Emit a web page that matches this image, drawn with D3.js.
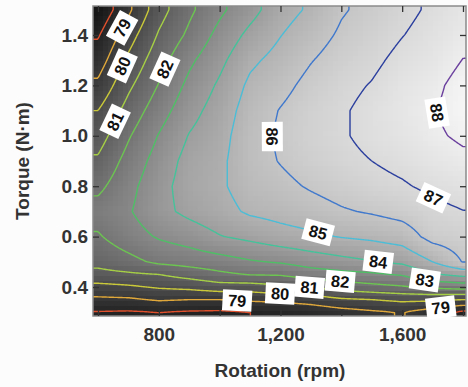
<!DOCTYPE html>
<html>
<head>
<meta charset="utf-8">
<script src="https://cdn.jsdelivr.net/npm/d3@7"></script>
<style>
  html, body { margin: 0; padding: 0; background: #fcfcfc; }
  svg text { font-family: "Liberation Sans", Arial, Helvetica, sans-serif; font-weight: bold; }
</style>
</head>
<body>
<svg id="chart" width="468" height="387"></svg>
<script>
// Motor efficiency map (%), sampled on a speed x torque grid.
const speeds = [600, 700, 800, 900, 1000, 1100, 1200, 1300, 1400, 1500, 1600, 1700, 1800];
const torques = [1.5, 1.4, 1.3, 1.2, 1.1, 1.0, 0.9, 0.8, 0.7, 0.6, 0.5, 0.45, 0.4, 0.35, 0.3];
// one row per torque (top to bottom), one column per speed
const efficiency = [
  [77.2, 78.8, 80.6, 81.8, 82.8, 83.65, 84.6, 85.15, 85.9, 86.3, 86.75, 87.15, 87.55],
  [77.9, 79.55, 81.1, 82.2, 83.3, 84.25, 84.97, 85.55, 86.15, 86.55, 86.97, 87.35, 87.75],
  [78.5, 80.2, 81.6, 82.8, 83.75, 84.8, 85.35, 85.95, 86.45, 86.8, 87.25, 87.55, 88.02],
  [79.2, 80.8, 82.05, 83.25, 84.15, 85.2, 85.7, 86.3, 86.75, 87.05, 87.5, 87.8, 88.3],
  [80.0, 81.37, 82.55, 83.65, 84.45, 85.45, 86.05, 86.55, 86.9, 87.25, 87.6, 87.95, 88.35],
  [80.55, 81.9, 83.05, 84.05, 84.65, 85.6, 86.15, 86.6, 86.9, 87.25, 87.5, 87.85, 88.15],
  [81.15, 82.35, 83.4, 84.35, 84.8, 85.6, 86.05, 86.45, 86.75, 87.0, 87.25, 87.55, 87.8],
  [81.75, 82.7, 83.65, 84.45, 84.85, 85.45, 85.75, 86.1, 86.4, 86.7, 86.9, 87.2, 87.4],
  [82.4, 82.9, 83.7, 84.25, 84.65, 85.15, 85.35, 85.6, 85.9, 86.1, 86.35, 86.75, 86.98],
  [81.9, 82.55, 83.1, 83.45, 83.95, 84.25, 84.6, 84.8, 85.05, 85.2, 85.45, 86.35, 86.5],
  [81.3, 81.7, 82.2, 82.4, 82.6, 82.9, 83.1, 83.45, 83.7, 83.95, 84.2, 85.0, 86.05],
  [80.7, 80.85, 81.0, 81.4, 81.8, 82.05, 82.1, 82.5, 82.7, 82.85, 83.1, 83.9, 84.3],
  [79.7, 79.85, 80.1, 80.25, 80.55, 80.53, 80.8, 81.05, 81.45, 81.7, 81.9, 82.2, 82.4],
  [78.8, 78.85, 79.1, 79.0, 79.0, 79.15, 79.25, 79.45, 79.85, 80.0, 80.2, 80.2, 80.0],
  [77.95, 77.9, 78.0, 77.9, 77.85, 78.0, 78.05, 78.3, 78.6, 78.85, 79.05, 78.5, 77.8]
];

const contourLevels = [78, 79, 80, 81, 82, 83, 84, 85, 86, 87, 88];
const levelColors = ["#e0502c", "#e0a83a", "#c9c93a", "#a6cf45", "#6cc451", "#4fbf66",
                     "#45c29a", "#4cbdd6", "#3f78cc", "#2b3f9e", "#6a3f9e"];

// where each contour label sits: [level, speed, torque]
const labelSpots = [
  [79, 679, 1.428], [80, 672, 1.281], [81, 656, 1.055], [82, 804, 1.273],
  [86, 1172, 0.995], [88, 1715, 1.094], [87, 1698, 0.745], [85, 1323, 0.610],
  [84, 1521, 0.499], [83, 1675, 0.440], [82, 1396, 0.412], [81, 1297, 0.392],
  [80, 1198, 0.376], [79, 1057, 0.348], [79, 1724, 0.329]
];

const xTicks = [600, 800, 1000, 1200, 1400, 1600, 1800];
const xTickLabels = [800, 1200, 1600];
const yTicks = [0.4, 0.6, 0.8, 1.0, 1.2, 1.4];

// ---------------------------------------------------------------
const svg = d3.select("#chart");
const plot = { left: 93, right: 466, top: 6, bottom: 316 };
const x = d3.scaleLinear().domain([583.6, 1809.9]).range([plot.left, plot.right]);
const y = d3.scaleLinear().domain([0.285, 1.515]).range([plot.bottom, plot.top]);

// bilinear lookup into the efficiency grid
const tAsc = torques.slice().reverse();
const rowsAsc = efficiency.slice().reverse();
function locate(arr, v) {
  if (v <= arr[0]) return [0, 0];
  if (v >= arr[arr.length - 1]) return [arr.length - 2, 1];
  const i = d3.bisectRight(arr, v) - 1;
  return [i, (v - arr[i]) / (arr[i + 1] - arr[i])];
}
function effAt(r, t) {
  const [i, fx] = locate(speeds, r);
  const [j, fy] = locate(tAsc, t);
  const a = rowsAsc[j][i], b = rowsAsc[j][i + 1];
  const c = rowsAsc[j + 1][i], d = rowsAsc[j + 1][i + 1];
  return (a * (1 - fx) + b * fx) * (1 - fy) + (c * (1 - fx) + d * fx) * fy;
}

const defs = svg.append("defs");
defs.append("clipPath").attr("id", "plotClip")
  .append("rect")
  .attr("x", plot.left).attr("y", plot.top)
  .attr("width", plot.right - plot.left).attr("height", plot.bottom - plot.top);

// grey shading of the efficiency field, drawn in small blocks
const gray = d3.scaleLinear().domain([77.3, 88.6]).range([22, 250]).clamp(true);
const cell = 5;
const canvas = document.createElement("canvas");
const cw = Math.ceil((plot.right - plot.left) / cell), ch = Math.ceil((plot.bottom - plot.top) / cell);
canvas.width = cw; canvas.height = ch;
const ctx = canvas.getContext("2d");
const img = ctx.createImageData(cw, ch);
for (let j = 0; j < ch; j++) {
  for (let i = 0; i < cw; i++) {
    const px = plot.left + (i + 0.5) * cell, py = plot.top + (j + 0.5) * cell;
    const g = Math.round(gray(effAt(x.invert(px), y.invert(py))));
    const k = (j * cw + i) * 4;
    img.data[k] = g; img.data[k + 1] = g; img.data[k + 2] = g; img.data[k + 3] = 255;
  }
}
ctx.putImageData(img, 0, 0);
svg.append("image")
  .attr("href", canvas.toDataURL())
  .attr("x", plot.left).attr("y", plot.top)
  .attr("width", cw * cell).attr("height", ch * cell)
  .attr("preserveAspectRatio", "none")
  .style("image-rendering", "pixelated")
  .attr("clip-path", "url(#plotClip)");

// contour lines from a finer resampling of the grid
const nx = 320, ny = 300;
const gx0 = x.domain()[0] - 30, gx1 = x.domain()[1] + 30;
const gy0 = y.domain()[1] + 0.03, gy1 = y.domain()[0] - 0.03;
const gdx = (gx1 - gx0) / (nx - 1), gdy = (gy1 - gy0) / (ny - 1);
const fine = new Float64Array(nx * ny);
for (let j = 0; j < ny; j++)
  for (let i = 0; i < nx; i++)
    fine[j * nx + i] = effAt(gx0 + i * gdx, gy0 + j * gdy);

const toPx = p => [x(gx0 + (p[0] - 0.5) * gdx), y(gy0 + (p[1] - 0.5) * gdy)];
const contours = d3.contours().size([nx, ny]).thresholds(contourLevels)(fine);

const lineLayer = svg.append("g").attr("clip-path", "url(#plotClip)");
const ringsByLevel = new Map();
contours.forEach(c => {
  const rings = [];
  c.coordinates.forEach(poly => poly.forEach(ring => rings.push(ring.map(toPx))));
  ringsByLevel.set(c.value, rings);
  const d = rings.map(r => "M" + r.map(p => p[0].toFixed(2) + "," + p[1].toFixed(2)).join("L")).join("");
  lineLayer.append("path")
    .attr("d", d)
    .attr("fill", "none")
    .attr("stroke", levelColors[contourLevels.indexOf(c.value)])
    .attr("stroke-width", 1.4)
    .attr("stroke-linejoin", "round");
});

// frame and ticks
svg.append("rect")
  .attr("x", plot.left).attr("y", plot.top)
  .attr("width", plot.right - plot.left).attr("height", plot.bottom - plot.top)
  .attr("fill", "none").attr("stroke", "#8a8a8a").attr("stroke-width", 1.5);

const fmtX = d3.format(",");
function styleAxis(g) {
  g.select(".domain").remove();
  g.selectAll(".tick line").attr("stroke", "#333").attr("stroke-width", 1.3);
  g.selectAll(".tick text").attr("fill", "#333").style("font-size", "19px");
}
svg.append("g").attr("transform", `translate(0,${plot.bottom})`)
  .call(d3.axisBottom(x).tickValues(xTicks).tickSizeInner(-6).tickSizeOuter(0).tickPadding(12)
    .tickFormat(v => xTickLabels.includes(v) ? fmtX(v) : ""))
  .call(styleAxis);
svg.append("g").attr("transform", `translate(0,${plot.top})`)
  .call(d3.axisTop(x).tickValues(xTicks).tickSizeInner(-6).tickSizeOuter(0).tickFormat(""))
  .call(styleAxis);
svg.append("g").attr("transform", `translate(${plot.left},0)`)
  .call(d3.axisLeft(y).tickValues(yTicks).tickSizeInner(-6).tickSizeOuter(0).tickPadding(5)
    .tickFormat(d3.format(".1f")))
  .call(styleAxis);
svg.append("g").attr("transform", `translate(${plot.right},0)`)
  .call(d3.axisRight(y).tickValues(yTicks).tickSizeInner(-6).tickSizeOuter(0).tickFormat(""))
  .call(styleAxis);

// contour labels: snapped onto their line, turned along it
const labelLayer = svg.append("g");
labelSpots.forEach(([level, r, t]) => {
  const ax = x(r), ay = y(t);
  let best = null, bestD = Infinity;
  (ringsByLevel.get(level) || []).forEach(ring => {
    ring.forEach((p, idx) => {
      const d = (p[0] - ax) ** 2 + (p[1] - ay) ** 2;
      if (d < bestD) { bestD = d; best = { ring, idx }; }
    });
  });
  let cx = ax, cy = ay, ang = 0;
  if (best && bestD < 400) {
    const ring = best.ring, n = ring.length;
    const p = ring[best.idx];
    const a = ring[(best.idx - 4 + n) % n], b = ring[(best.idx + 4) % n];
    cx = p[0]; cy = p[1];
    ang = Math.atan2(b[1] - a[1], b[0] - a[0]) * 180 / Math.PI;
    if (ang > 90) ang -= 180;
    if (ang <= -90) ang += 180;
  }
  const g = labelLayer.append("g").attr("transform", `translate(${cx},${cy}) rotate(${ang})`);
  const txt = g.append("text")
    .attr("text-anchor", "middle").attr("dy", "0.36em")
    .attr("fill", "#111").style("font-size", "16.5px")
    .text(level);
  const w = txt.node().getComputedTextLength();
  g.insert("rect", "text")
    .attr("x", -w / 2 - 5.5).attr("y", -10.5)
    .attr("width", w + 11).attr("height", 21)
    .attr("fill", "#fff");
});

// axis titles
svg.append("text")
  .attr("x", 280).attr("y", 377)
  .attr("text-anchor", "middle").attr("fill", "#333").style("font-size", "19px")
  .text("Rotation (rpm)");
svg.append("text")
  .attr("transform", "translate(29,161) rotate(-90)")
  .attr("text-anchor", "middle").attr("fill", "#333").style("font-size", "19px")
  .text("Torque (N·m)");
</script>
</body>
</html>
